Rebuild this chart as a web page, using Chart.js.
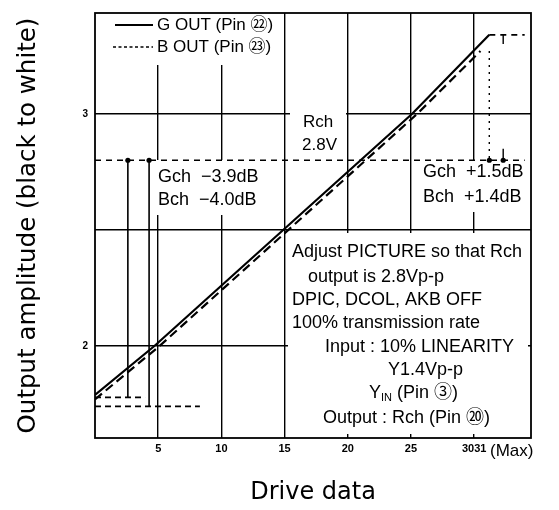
<!DOCTYPE html>
<html>
<head>
<meta charset="utf-8">
<script src="https://cdn.jsdelivr.net/npm/chart.js@4.4.0/dist/chart.umd.min.js"></script>
<style>
  html, body { margin: 0; padding: 0; background: #fff; }
  #wrap { width: 559px; height: 510px; }
</style>
</head>
<body>
<div id="wrap"><canvas id="myChart" width="559" height="510"></canvas></div>
<script>
// drive data vs output amplitude (V)
var driveG = [0, 4.7, 25.1, 31.2];
var outG   = [1.79, 2.0, 3.0, 3.34];
var driveB = [0, 5.1, 25.5, 30.5];
var outB   = [1.77, 2.0, 3.0, 3.27];

var xTicks = [5, 10, 15, 20, 25, 30];
var xLabels = { 5: '5', 10: '10', 15: '15', 20: '20', 25: '25', 30: '3031' };
var yTicks = [2, 2.5, 3];
var yLabels = { 2: '2', 3: '3' };

// reference marks
var refLevel = 2.8;              // Rch 2.8V
var refEnd = 34.0;
var maxLevel = 3.34;             // top (Max) level
var leftMarks = [2.6, 4.28];     // drive where G / B hit the low levels
var leftFloor = [1.779, 1.74];
var leftFloorEnd = [3.96, 8.3];
var rightMarks = [31.2, 32.3];
var rightTop = [3.27, 2.85];

function pts(xs, ys) {
    return xs.map(function(x, i) { return { x: x, y: ys[i] }; });
}
function seg(x1, y1, x2, y2, dash, width) {
    return {
        data: [{ x: x1, y: y1 }, { x: x2, y: y2 }],
        showLine: true, borderColor: '#000', borderWidth: width || 1.5,
        borderDash: dash || [], pointRadius: 0, fill: false
    };
}

var datasets = [];
datasets.push({
    label: 'G OUT', data: pts(driveG, outG), showLine: true,
    borderColor: '#000', borderWidth: 2.2, pointRadius: 0, fill: false
});
datasets.push({
    label: 'B OUT', data: pts(driveB, outB), showLine: true,
    borderColor: '#000', borderWidth: 2.2, borderDash: [9, 5], pointRadius: 0, fill: false
});
datasets.push(seg(0, refLevel, refEnd, refLevel, [6, 5], 1.6));
datasets.push(seg(driveG[3], maxLevel, refEnd, maxLevel, [6, 5], 1.6));
leftMarks.forEach(function(m, i) {
    datasets.push(seg(m, refLevel, m, leftFloor[i], [], 1.6));
    datasets.push(seg(0, leftFloor[i], leftFloorEnd[i], leftFloor[i], [6, 4], 1.6));
});
datasets.push(seg(rightMarks[0], rightTop[0], rightMarks[0], refLevel, [2, 5], 1.4));
datasets.push(seg(rightMarks[1], rightTop[1], rightMarks[1], refLevel, [], 1.4));
datasets.push(seg(rightMarks[1], maxLevel, rightMarks[1], maxLevel - 0.04, [], 1.4));
datasets.push({
    data: pts(leftMarks.concat(rightMarks), [refLevel, refLevel, refLevel, refLevel]),
    showLine: false, pointRadius: 2.6, pointBackgroundColor: '#000', pointBorderWidth: 0
});

var TXT = '"Liberation Sans", "Noto Sans CJK JP", sans-serif';

// white patches behind the notes (grid hidden there)
var boxes = [
    [96, 9, 186, 56],
    [290, 113, 56, 41],
    [155, 160, 108, 55],
    [420, 160, 109, 52],
    [288, 233, 240, 201]
];
var notes = [
    ['Rch', 303, 122, 17],
    ['2.8V', 302, 145, 17],
    ['Gch  \u22123.9dB', 158, 177, 18],
    ['Bch  \u22124.0dB', 158, 200, 18],
    ['Gch  +1.5dB', 423, 172, 18],
    ['Bch  +1.4dB', 423, 197, 18],
    ['Adjust PICTURE so that Rch', 292, 252, 18],
    ['output is 2.8Vp-p', 308, 277, 18],
    ['DPIC, DCOL, AKB OFF', 292, 300, 18],
    ['100% transmission rate', 292, 323, 18],
    ['Input : 10% LINEARITY', 325, 347, 18],
    ['Y1.4Vp-p', 388, 370, 18],
    ['Y', 369, 393, 18],
    ['IN', 381, 398, 11],
    ['(Pin \u2462)', 397, 393, 18],
    ['Output : Rch (Pin \u2473)', 323, 418, 18],
    ['(Max)', 490, 451, 17],
    ['G OUT (Pin \u3252)', 157, 25, 17],
    ['B OUT (Pin \u3253)', 157, 47, 17]
];

var notesPlugin = {
    id: 'notes',
    beforeDatasetsDraw: function(chart) {
        var ctx = chart.ctx;
        ctx.save();
        ctx.fillStyle = '#fff';
        boxes.forEach(function(b) { ctx.fillRect(b[0], b[1], b[2], b[3]); });
        ctx.restore();
    },
    afterDatasetsDraw: function(chart) {
        var ctx = chart.ctx;
        var a = chart.chartArea;
        ctx.save();
        // frame
        ctx.strokeStyle = '#000';
        ctx.lineWidth = 1.8;
        ctx.strokeRect(a.left, a.top, a.right - a.left, a.bottom - a.top);
        // legend samples
        ctx.lineWidth = 2;
        ctx.beginPath(); ctx.moveTo(115, 25); ctx.lineTo(153, 25); ctx.stroke();
        ctx.lineWidth = 1.6;
        ctx.setLineDash([3, 2.5]);
        ctx.beginPath(); ctx.moveTo(113, 47); ctx.lineTo(153, 47); ctx.stroke();
        ctx.setLineDash([]);
        // texts
        ctx.fillStyle = '#000';
        ctx.textAlign = 'left';
        ctx.textBaseline = 'middle';
        notes.forEach(function(n) {
            ctx.font = n[3] + 'px ' + TXT;
            ctx.fillText(n[0], n[1], n[2]);
        });
        ctx.restore();
    }
};

var ctx = document.getElementById('myChart').getContext('2d');
var myChart = new Chart(ctx, {
    type: 'scatter',
    data: { datasets: datasets },
    options: {
        responsive: false,
        animation: false,
        layout: { padding: { top: 8, right: 28, left: 0, bottom: 0 } },
        plugins: { legend: { display: false }, tooltip: { enabled: false } },
        scales: {
            x: {
                type: 'linear', min: 0, max: 34.5,
                afterBuildTicks: function(s) { s.ticks = xTicks.map(function(v) { return { value: v }; }); },
                afterFit: function(s) { s.height = 72; },
                grid: { color: '#000', lineWidth: 1.4, drawTicks: false },
                border: { display: false },
                ticks: {
                    color: '#000', padding: 4, maxRotation: 0, autoSkip: false,
                    font: { family: 'Liberation Sans', size: 11, weight: 'bold' },
                    callback: function(v) { return xLabels[v] || ''; }
                },
                title: {
                    display: true, text: 'Drive data', color: '#000',
                    font: { family: 'DejaVu Sans', size: 24 },
                    padding: { top: 0, bottom: 3 }
                }
            },
            y: {
                type: 'linear', min: 1.604, max: 3.434,
                afterBuildTicks: function(s) { s.ticks = yTicks.map(function(v) { return { value: v }; }); },
                afterFit: function(s) { s.width = 95; },
                grid: { color: '#000', lineWidth: 1.4, drawTicks: false },
                border: { display: false },
                ticks: {
                    color: '#000', padding: 7,
                    font: { family: 'Liberation Sans', size: 10, weight: 'bold' },
                    callback: function(v) { return yLabels[v] || ''; }
                },
                title: {
                    display: true, text: 'Output amplitude (black to white)', color: '#000',
                    font: { family: 'DejaVu Sans', size: 24.5 },
                    padding: { top: 14, bottom: 0 }
                }
            }
        }
    },
    plugins: [notesPlugin]
});
</script>
</body>
</html>
